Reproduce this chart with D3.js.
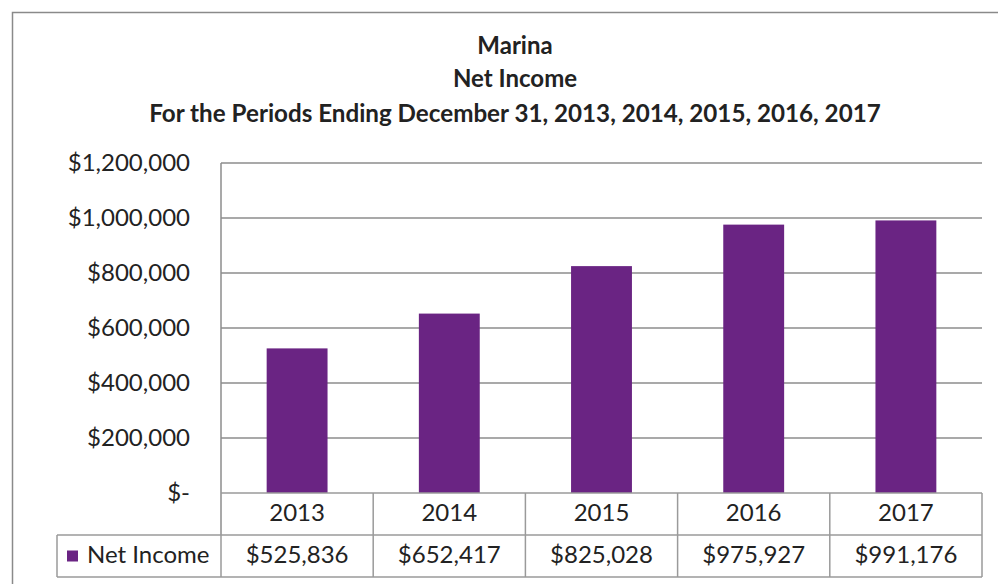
<!DOCTYPE html>
<html>
<head>
<meta charset="utf-8">
<script src="https://cdn.jsdelivr.net/npm/d3@7"></script>
<style>
  html, body { margin: 0; padding: 0; background: #fff; }
  svg { display: block; }
  text { font-family: Lato, "Open Sans", sans-serif; fill: #222; }
</style>
</head>
<body>
<svg id="chart" width="998" height="584"></svg>
<script>
// Net income by year
const years = ["2013", "2014", "2015", "2016", "2017"];
const netIncome = [525836, 652417, 825028, 975927, 991176];
const yTicks = [0, 200000, 400000, 600000, 800000, 1000000, 1200000];
const titleLines = ["Marina", "Net Income", "For the Periods Ending December 31, 2013, 2014, 2015, 2016, 2017"];
const seriesName = "Net Income";

const svg = d3.select("#chart");
const W = 998, H = 584;
const plot = { left: 221, right: 982, top: 163, bottom: 493 };
const tableRows = { headTop: 493, headBottom: 535, valBottom: 577 };
const legendLeft = 57;
const barColor = "#6a2483";
const gridColor = "#8c8c8c";
const borderColor = "#9a9a9a";
const labelSize = 24;

// outer chart frame
svg.append("rect")
  .attr("x", 12.5).attr("y", 12.5)
  .attr("width", W + 20).attr("height", H + 20)
  .attr("fill", "none").attr("stroke", "#8a8a8a").attr("stroke-width", 1.5);

// titles
const titleY = [48, 81, 116];
const titleSize = [24, 24, 24.2];
svg.append("g").selectAll("text").data(titleLines).join("text")
  .attr("x", 515).attr("y", (d, i) => titleY[i])
  .attr("text-anchor", "middle").attr("dominant-baseline", "middle")
  .attr("font-weight", "bold").attr("font-size", (d, i) => titleSize[i])
  .text(d => d);

// scales
const x = d3.scaleBand().domain(years).range([plot.left, plot.right]).padding(0);
const y = d3.scaleLinear().domain([0, 1200000]).range([plot.bottom, plot.top]);
const barW = x.bandwidth() * 0.4;

// gridlines
svg.append("g").selectAll("line").data(yTicks.filter(d => d > 0)).join("line")
  .attr("x1", plot.left).attr("x2", plot.right)
  .attr("y1", d => y(d)).attr("y2", d => y(d))
  .attr("stroke", gridColor).attr("stroke-width", 1.5);

// y axis labels
const money = d3.format("$,");
const yAxis = d3.axisLeft(y).tickValues(yTicks).tickSize(0).tickPadding(0)
  .tickFormat(d => d === 0 ? "$-" : money(d));
const ya = svg.append("g").attr("transform", `translate(190,0)`).call(yAxis);
ya.select(".domain").remove();
ya.selectAll("text")
  .attr("font-family", "Lato, sans-serif").attr("font-size", labelSize).attr("fill", "#222")
  .attr("x", 0);

// bars
const data = years.map((yr, i) => ({ year: yr, value: netIncome[i] }));
svg.append("g").selectAll("rect").data(data).join("rect")
  .attr("x", d => x(d.year) + (x.bandwidth() - barW) / 2)
  .attr("width", barW)
  .attr("y", d => y(d.value))
  .attr("height", d => y(0) - y(d.value))
  .attr("fill", barColor);

// plot left edge
svg.append("line")
  .attr("x1", plot.left).attr("x2", plot.left)
  .attr("y1", plot.top).attr("y2", tableRows.headBottom)
  .attr("stroke", gridColor).attr("stroke-width", 1.5);

// data table
const tbl = svg.append("g").attr("stroke", borderColor).attr("stroke-width", 1.5).attr("fill", "none");
tbl.append("line").attr("x1", plot.left).attr("x2", plot.right)
  .attr("y1", tableRows.headTop).attr("y2", tableRows.headTop);
tbl.append("line").attr("x1", legendLeft).attr("x2", plot.right)
  .attr("y1", tableRows.headBottom).attr("y2", tableRows.headBottom);
tbl.append("line").attr("x1", legendLeft).attr("x2", plot.right)
  .attr("y1", tableRows.valBottom).attr("y2", tableRows.valBottom);
tbl.append("line").attr("x1", legendLeft).attr("x2", legendLeft)
  .attr("y1", tableRows.headBottom).attr("y2", tableRows.valBottom);
tbl.append("line").attr("x1", plot.left).attr("x2", plot.left)
  .attr("y1", tableRows.headBottom).attr("y2", tableRows.valBottom);
tbl.selectAll(".col").data(years).join("line").attr("class", "col")
  .attr("x1", d => x(d) + x.bandwidth()).attr("x2", d => x(d) + x.bandwidth())
  .attr("y1", tableRows.headTop).attr("y2", tableRows.valBottom);

// year headers
svg.append("g").selectAll("text").data(years).join("text")
  .attr("x", d => x(d) + x.bandwidth() / 2)
  .attr("y", (tableRows.headTop + tableRows.headBottom) / 2 + 1)
  .attr("text-anchor", "middle").attr("dominant-baseline", "middle")
  .attr("font-size", labelSize)
  .text(d => d);

// values row
svg.append("g").selectAll("text").data(data).join("text")
  .attr("x", d => x(d.year) + x.bandwidth() / 2)
  .attr("y", (tableRows.headBottom + tableRows.valBottom) / 2 + 1)
  .attr("text-anchor", "middle").attr("dominant-baseline", "middle")
  .attr("font-size", labelSize)
  .text(d => money(d.value));

// legend key
const midVal = (tableRows.headBottom + tableRows.valBottom) / 2;
svg.append("rect")
  .attr("x", 67).attr("y", midVal - 5.5).attr("width", 11).attr("height", 11)
  .attr("fill", barColor);
svg.append("text")
  .attr("x", 87).attr("y", midVal + 1)
  .attr("dominant-baseline", "middle").attr("font-size", labelSize)
  .text(seriesName);
</script>
</body>
</html>
